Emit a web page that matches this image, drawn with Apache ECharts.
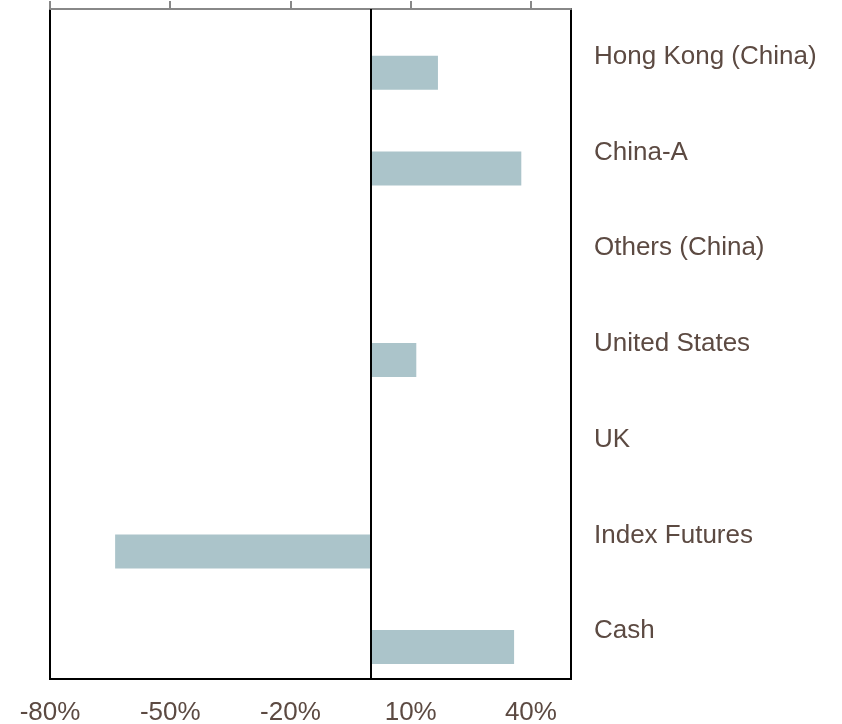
<!DOCTYPE html>
<html>
<head>
<meta charset="utf-8">
<script src="https://cdn.jsdelivr.net/npm/echarts@6/dist/echarts.min.js"></script>
<style>
  html, body { margin: 0; padding: 0; background: #fff; }
  #chart { width: 842px; height: 724px; }
</style>
</head>
<body>
<div id="chart"></div>
<script>
const categories = ['Hong Kong (China)', 'China-A', 'Others (China)', 'United States', 'UK', 'Index Futures', 'Cash']
const weights = [16.8, 37.6, 0, 11.4, 0, -63.75, 35.8]
const blankSeries = [0, 0, 0, 0, 0, 0, 0]
const tickValues = [-80, -50, -20, 10, 40]

const textColor = '#5c4a42'
const myChart = echarts.init(document.getElementById('chart'))

let option = {
  animation: false,
  grid: {
    left: 50,
    right: 271,
    top: 9,
    bottom: 45,
    outerBoundsMode: 'none',
    containLabel: false,
    show: true,
    borderColor: '#000',
    borderWidth: 2,
    backgroundColor: 'transparent'
  },
  xAxis: [
    {
      // top axis: grey line with ticks, no labels
      type: 'value',
      position: 'top',
      min: -80,
      max: 50,
      interval: 30,
      axisLine: { show: true, lineStyle: { color: '#888', width: 2 } },
      axisTick: { show: true, length: 8, customValues: tickValues, lineStyle: { color: '#888', width: 2 } },
      axisLabel: { show: false },
      splitLine: { show: false }
    },
    {
      // bottom axis: labels only
      type: 'value',
      position: 'bottom',
      min: -80,
      max: 50,
      interval: 30,
      axisLine: { show: false },
      axisTick: { show: false },
      splitLine: { show: false },
      axisLabel: {
        customValues: tickValues,
        formatter: '{value}%',
        margin: 21,
        color: textColor,
        fontFamily: 'Liberation Sans',
        fontSize: 26
      }
    }
  ],
  yAxis: {
    type: 'category',
    data: categories,
    inverse: true,
    position: 'right',
    axisLine: { show: false },
    axisTick: { show: false },
    axisLabel: {
      margin: 23,
      padding: [9, 0, 0, 0],
      color: textColor,
      fontFamily: 'Liberation Sans',
      fontSize: 26
    }
  },
  series: [
    {
      type: 'bar',
      xAxisIndex: 0,
      barWidth: 34,
      barGap: '-6%',
      data: blankSeries,
      itemStyle: { color: 'transparent' }
    },
    {
      type: 'bar',
      xAxisIndex: 0,
      barWidth: 34,
      data: weights,
      itemStyle: { color: '#abc4ca' },
      markLine: {
        silent: true,
        symbol: 'none',
        label: { show: false },
        lineStyle: { color: '#000', width: 2, type: 'solid' },
        data: [{ xAxis: 0 }]
      }
    }
  ]
}
myChart.setOption(option)
</script>
</body>
</html>
